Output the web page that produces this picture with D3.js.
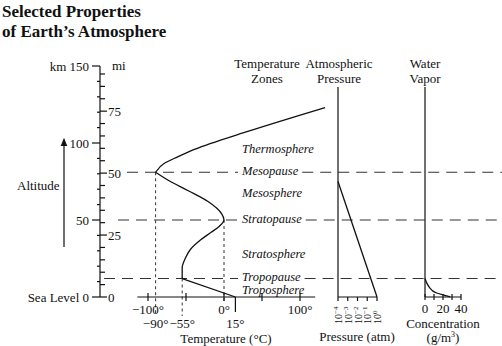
<!DOCTYPE html>
<html>
<head>
<meta charset="utf-8">
<script src="https://cdn.jsdelivr.net/npm/d3@7"></script>
<style>
  body { margin: 0; background: #fff; }
  svg, text { font-family: "Liberation Serif", "DejaVu Serif", serif; fill: #111; }
</style>
</head>
<body>
<div id="chart"></div>
<script>
// altitude (km) vs temperature (°C)
const tempAlt = [0, 12, 19, 25, 31, 37, 42, 46, 50, 54, 62, 69, 76, 81, 87, 91, 96, 107, 123];
const tempVal = [15, -55, -55, -51, -44, -31, -17, -6, 0, -3, -21, -47, -74, -90, -78, -61, -38, 28, 133];
// boundary layers
const pauseNames = ["Tropopause", "Stratopause", "Mesopause"];
const pauseAlt = [12, 50, 81];
const pauseTemp = [-55, 0, -90];
const zoneNames = ["Troposphere", "Stratosphere", "Mesosphere", "Thermosphere"];
const zoneAlt = [4, 27.3, 66.9, 95.5];
// pressure (log10 atm) and water vapor (g/m3)
const presAlt = [0, 75];
const presLog = [0, -4];
const waterAlt = [0, 0.5, 1.3, 2.6, 4, 5.8, 9, 12];
const waterVal = [28, 25, 20, 13, 8.5, 5.5, 2, 0];
// ticks
const kmLabels = [0, 50, 100, 150];
const miLabels = [0, 25, 50, 75];
const tempTicks = [-100, -50, 0, 50, 100];
const tempLabels = [-100, 0, 100];
const presTicks = [-4, -3, -2, -1, 0];
const waterTicks = [0, 10, 20, 30, 40];
const waterLabels = [0, 20, 40];

const width = 502, height = 346;
const y = d3.scaleLinear([0, 150], [297, 66]);
const xT = d3.scaleLinear([-100, 100], [148, 300]);
const xP = d3.scaleLinear([-4, 0], [338, 377]);
const xW = d3.scaleLinear([0, 40], [425, 461]);
const KM_PER_MI = 1.609;
const axisX = 100;

const svg = d3.select("#chart").append("svg")
    .attr("width", width).attr("height", height)
    .attr("viewBox", [0, 0, width, height]);

svg.append("defs").append("marker")
    .attr("id", "arrow").attr("viewBox", "0 0 10 10")
    .attr("refX", 5).attr("refY", 5)
    .attr("markerWidth", 7).attr("markerHeight", 7)
    .attr("orient", "auto")
  .append("path").attr("d", "M0,1L10,5L0,9Z").attr("fill", "#111");

// title
svg.append("text").attr("x", 2).attr("y", 17)
    .style("font-size", "17px").style("font-weight", "bold")
    .text("Selected Properties");
svg.append("text").attr("x", 2).attr("y", 37)
    .style("font-size", "17px").style("font-weight", "bold")
    .text("of Earth’s Atmosphere");

// altitude axis
const ax = svg.append("g").attr("stroke", "#111").attr("stroke-width", 1.2);
ax.append("line").attr("x1", axisX).attr("x2", axisX).attr("y1", y(150)).attr("y2", y(0));
ax.selectAll(".km").data(d3.range(0, 151, 10)).join("line")
    .attr("x1", d => d % 50 === 0 ? axisX - 8 : axisX - 3)
    .attr("x2", axisX)
    .attr("y1", d => y(d)).attr("y2", d => y(d));
ax.selectAll(".mi").data(d3.range(0, 91, 5)).join("line")
    .attr("x1", axisX).attr("x2", d => d % 25 === 0 ? axisX + 7 : axisX + 5)
    .attr("y1", d => y(d * KM_PER_MI)).attr("y2", d => y(d * KM_PER_MI));

svg.selectAll(".kmlab").data(kmLabels).join("text")
    .attr("x", axisX - 11).attr("y", d => y(d) + 4.5)
    .attr("text-anchor", "end").style("font-size", "13px")
    .text(d => d === 0 ? "Sea Level 0" : d === 150 ? "km  150" : d);
svg.selectAll(".milab").data(miLabels).join("text")
    .attr("x", axisX + 8).attr("y", d => y(d * KM_PER_MI) + 4.5)
    .style("font-size", "13px").text(d => d);
svg.append("text").attr("x", axisX + 12).attr("y", y(150) + 4)
    .style("font-size", "13px").text("mi");

svg.append("text").attr("x", 17).attr("y", 190).style("font-size", "13px").text("Altitude");
svg.append("line").attr("x1", 64).attr("x2", 64).attr("y1", 247).attr("y2", 142)
    .attr("stroke", "#111").attr("stroke-width", 1.2).attr("marker-end", "url(#arrow)");

// column headers
const headers = [["Temperature", "Zones", 267], ["Atmospheric", "Pressure", 339], ["Water", "Vapor", 425]];
headers.forEach(([a, b, cx]) => {
  svg.append("text").attr("x", cx).attr("y", 68).attr("text-anchor", "middle").style("font-size", "13px").text(a);
  svg.append("text").attr("x", cx).attr("y", 83).attr("text-anchor", "middle").style("font-size", "13px").text(b);
});

// zone labels
const labelX = 242;
zoneNames.forEach((n, i) => {
  svg.append("text").attr("x", labelX).attr("y", y(zoneAlt[i]) + 3)
      .style("font-size", "12.5px").style("font-style", "italic").text(n);
});
const dashStart = [104, 118, 127];
pauseNames.forEach((n, i) => {
  const yy = y(pauseAlt[i]);
  const t = svg.append("text").attr("x", labelX).attr("y", yy + (i === 0 ? 2 : 3))
      .style("font-size", "12.5px").style("font-style", "italic").text(n);
  const w = t.node().getComputedTextLength();
  const g = svg.append("g").attr("stroke", "#333").attr("stroke-width", 1.2)
      .attr("stroke-dasharray", "11,7");
  g.append("line").attr("x1", dashStart[i]).attr("x2", labelX - 4).attr("y1", yy).attr("y2", yy);
  g.append("line").attr("x1", labelX + w + 4).attr("x2", width).attr("y1", yy).attr("y2", yy);
});

// dotted guides from turning points down to the temperature axis
const dotEnd = [316, 304, 316];
pauseTemp.forEach((t, i) => {
  svg.append("line").attr("x1", xT(t)).attr("x2", xT(t))
      .attr("y1", y(pauseAlt[i])).attr("y2", dotEnd[i])
      .attr("stroke", "#333").attr("stroke-width", 1).attr("stroke-dasharray", "3,3");
});

// temperature axis
const ta = svg.append("g").attr("stroke", "#111").attr("stroke-width", 1.2);
ta.append("line").attr("x1", xT(-114)).attr("x2", xT(120)).attr("y1", y(0)).attr("y2", y(0));
ta.selectAll("line.tk").data(tempTicks).join("line").attr("class", "tk")
    .attr("x1", d => xT(d)).attr("x2", d => xT(d)).attr("y1", y(0) - 4).attr("y2", y(0) + 4);
ta.append("line").attr("x1", xT(15)).attr("x2", xT(15)).attr("y1", y(0)).attr("y2", y(0) + 15);

const deg = d => (d < 0 ? "−" + (-d) : d) + "°";
svg.selectAll(".tlab").data(tempLabels).join("text")
    .attr("x", d => xT(d)).attr("y", 314).attr("text-anchor", "middle")
    .style("font-size", "13px").text(deg);
svg.selectAll(".plab").data([-90, -55, 15]).join("text")
    .attr("x", d => xT(d)).attr("y", 328).attr("text-anchor", "middle")
    .style("font-size", "13px").text(deg);
svg.append("text").attr("x", 226).attr("y", 343).attr("text-anchor", "middle")
    .style("font-size", "13px").text("Temperature (°C)");

// temperature curve: troposphere straight, then two smooth pieces
const pts = tempAlt.map((a, i) => [tempVal[i], a]);
const tLine = d3.line().x(d => xT(d[0])).y(d => y(d[1]));
const tCurve = d3.line().x(d => xT(d[0])).y(d => y(d[1])).curve(d3.curveMonotoneY);
const iTrop = tempAlt.indexOf(12), iMeso = tempAlt.indexOf(81);
const tg = svg.append("g").attr("fill", "none").attr("stroke", "#111").attr("stroke-width", 1.3);
tg.append("path").attr("d", tLine(pts.slice(0, iTrop + 1)));
tg.append("path").attr("d", tCurve(pts.slice(iTrop, iMeso + 1)));
tg.append("path").attr("d", tCurve(pts.slice(iMeso)));

// pressure panel
const pg = svg.append("g").attr("stroke", "#111").attr("stroke-width", 1.2).attr("fill", "none");
pg.append("line").attr("x1", xP(-4)).attr("x2", xP(-4)).attr("y1", 87).attr("y2", y(0));
pg.append("line").attr("x1", xP(-4)).attr("x2", xP(0)).attr("y1", y(0)).attr("y2", y(0));
pg.selectAll("line.tk").data(presTicks).join("line").attr("class", "tk")
    .attr("x1", d => xP(d)).attr("x2", d => xP(d)).attr("y1", y(0)).attr("y2", y(0) + 4);
pg.append("path").attr("stroke-width", 1.3)
    .attr("d", d3.line().x(d => xP(d[0])).y(d => y(d[1]))(presAlt.map((a, i) => [presLog[i], a])));
svg.selectAll(".prlab").data(presTicks).join("text")
    .attr("transform", d => `translate(${xP(d) + 4},${y(0) + 27}) rotate(-90)`)
    .style("font-size", "10px")
    .call(t => t.append("tspan").text("10"))
    .call(t => t.append("tspan").attr("dy", -4).style("font-size", "7px").text(d => d === 0 ? "0" : "−" + (-d)));
svg.append("text").attr("x", 357).attr("y", 341).attr("text-anchor", "middle")
    .style("font-size", "13px").text("Pressure (atm)");

// water vapor panel
const wg = svg.append("g").attr("stroke", "#111").attr("stroke-width", 1.2).attr("fill", "none");
wg.append("line").attr("x1", xW(0)).attr("x2", xW(0)).attr("y1", 87).attr("y2", y(0));
wg.append("line").attr("x1", xW(0)).attr("x2", xW(40)).attr("y1", y(0)).attr("y2", y(0));
wg.selectAll("line.tk").data(waterTicks).join("line").attr("class", "tk")
    .attr("x1", d => xW(d)).attr("x2", d => xW(d)).attr("y1", y(0) - 3).attr("y2", y(0) + 3);
wg.append("path").attr("stroke-width", 1.3)
    .attr("d", d3.line().x(d => xW(d[0])).y(d => y(d[1])).curve(d3.curveMonotoneY)(waterAlt.map((a, i) => [waterVal[i], a])));
svg.selectAll(".wlab").data(waterLabels).join("text")
    .attr("x", d => xW(d)).attr("y", 313).attr("text-anchor", "middle")
    .style("font-size", "13px").text(d => d);
svg.append("text").attr("x", 443).attr("y", 328).attr("text-anchor", "middle")
    .style("font-size", "13px").text("Concentration");
svg.append("text").attr("x", 443).attr("y", 342).attr("text-anchor", "middle")
    .style("font-size", "13px")
    .call(t => t.append("tspan").text("(g/m"))
    .call(t => t.append("tspan").attr("dy", -5).style("font-size", "8px").text("3"))
    .call(t => t.append("tspan").attr("dy", 5).text(")"));
</script>
</body>
</html>
